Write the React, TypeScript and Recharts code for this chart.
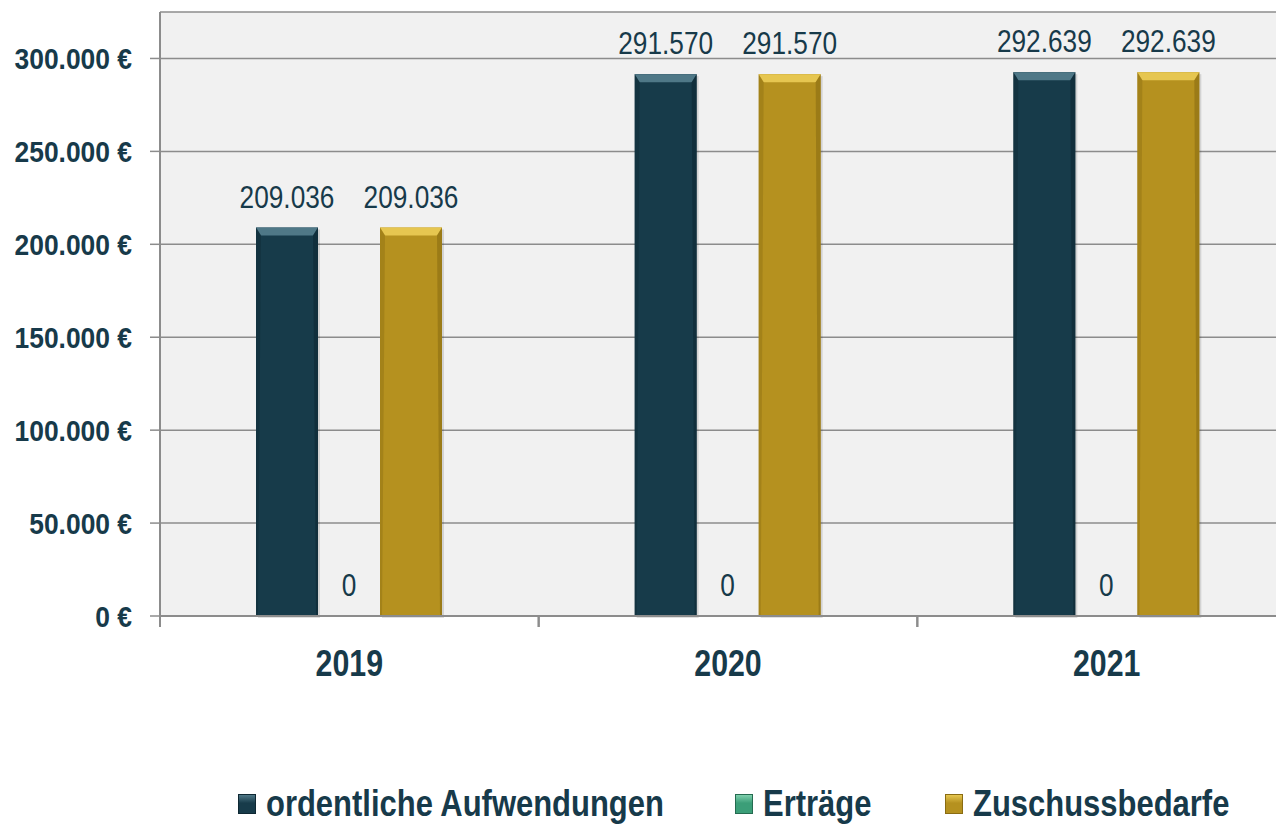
import React from 'react';
import { BarChart, Bar, XAxis, YAxis, CartesianGrid, LabelList, Legend } from 'recharts';

const years = ['2019', '2020', '2021'];
const aufwendungen = [209036, 291570, 292639];
const ertraege = [0, 0, 0];
const zuschuss = [209036, 291570, 292639];
const yTicks = [0, 50000, 100000, 150000, 200000, 250000, 300000];

const seriesNames = ['ordentliche Aufwendungen', 'Erträge', 'Zuschussbedarfe'];
const seriesColors = ['#173b4a', '#3b9e78', '#b5911f'];
const seriesLight = ['#4f7887', '#7fd0ad', '#e6c650'];
const seriesDark = ['#0e2833', '#256b50', '#8a6c12'];
const legendLeft = [238, 735, 945];

const data = years.map((y, i) => ({ year: y, a: aufwendungen[i], e: ertraege[i], z: zuschuss[i] }));

const FONT = '"Liberation Sans", Arial, sans-serif';
const SX = 0.82;
const TEXT = '#173a4a';
const GRID = '#8c8c8c';

const fmt = (v: any) => String(Math.round(Number(v))).replace(/\B(?=(\d{3})+(?!\d))/g, '.');

const NarrowText = ({ x, y, anchor, size, bold, children, dy, sx }: any) => (
  <text
    x={0}
    y={0}
    dy={dy || 0}
    transform={`translate(${x},${y}) scale(${sx || SX},1)`}
    textAnchor={anchor}
    fill={TEXT}
    fontSize={size}
    fontWeight={bold ? 'bold' : 'normal'}
    fontFamily={FONT}
  >
    {children}
  </text>
);

const makeShape = (idx: number) => (props: any) => {
  const { x, y, width: w, height: h } = props;
  if (!h || h <= 0) return <g />;
  const b = Math.min(8, h / 2);
  const s = 5;
  return (
    <g>
      <rect x={x + 2} y={y + 2} width={w} height={h} fill="rgba(0,0,0,0.12)" />
      <rect x={x} y={y} width={w} height={h} fill={seriesColors[idx]} />
      <polygon points={`${x},${y} ${x + w},${y} ${x + w - s},${y + b} ${x + s},${y + b}`} fill={seriesLight[idx]} />
      <polygon points={`${x + w},${y} ${x + w},${y + h} ${x + w - 2},${y + h} ${x + w - s},${y + b}`} fill={seriesDark[idx]} opacity={0.6} />
      <polygon points={`${x},${y} ${x + s},${y + b} ${x + 2},${y + h} ${x},${y + h}`} fill={seriesDark[idx]} opacity={0.4} />
    </g>
  );
};

const XTick = (props: any) => {
  const { x, y, payload } = props;
  const off = payload && typeof payload.offset === 'number' ? payload.offset : 0;
  return (
    <g>
      {off > 0 && <line x1={x - off} x2={x - off} y1={y} y2={y + 11} stroke={GRID} strokeWidth={2} />}
      {off > 0 && <line x1={x + off} x2={x + off} y1={y} y2={y + 11} stroke={GRID} strokeWidth={2} />}
      <NarrowText x={x} y={y + 60} anchor="middle" size={37} bold>
        {payload.value}
      </NarrowText>
    </g>
  );
};

const YTick = (props: any) => {
  const { x, y, payload } = props;
  return (
    <NarrowText x={x} y={y} dy="0.36em" anchor="end" size={30} bold sx={0.88}>
      {fmt(payload.value) + ' €'}
    </NarrowText>
  );
};

const ValueLabel = (props: any) => {
  const { x, y, width, value } = props;
  return (
    <NarrowText x={x + width / 2} y={y - 20} anchor="middle" size={32}>
      {fmt(value)}
    </NarrowText>
  );
};

const LegendContent = () => (
  <div style={{ position: 'relative', height: 60, fontFamily: FONT, fontWeight: 'bold', fontSize: 36, color: TEXT }}>
    {seriesNames.map((n, i) => (
      <div key={n} style={{ position: 'absolute', left: legendLeft[i], top: 16, display: 'flex', alignItems: 'center', whiteSpace: 'nowrap' }}>
        <div style={{ width: 16, height: 18, marginRight: 10, flex: 'none', background: `linear-gradient(to bottom, ${seriesLight[i]} 0%, ${seriesColors[i]} 45%, ${seriesColors[i]} 100%)`, border: `1px solid ${seriesDark[i]}` }} />
        <span style={{ display: 'inline-block', transform: 'scaleX(0.86)', transformOrigin: 'left center' }}>{n}</span>
      </div>
    ))}
  </div>
);

export default function App() {
  return (
    <div style={{ position: 'absolute', left: 0, top: 0, width: 1276, height: 827, overflow: 'hidden', background: '#fff' }}>
      <BarChart width={1296} height={827} data={data} margin={{ top: 12, right: 0, bottom: 0, left: 0 }} barSize={62} barGap={0}>
        <CartesianGrid vertical={false} horizontal={true} stroke={GRID} strokeWidth={1.5} fill="#f1f1f1" />
        <XAxis dataKey="year" height={151} tickLine={false} tickSize={0} tickMargin={0} axisLine={{ stroke: GRID, strokeWidth: 2 }} tick={<XTick />} interval={0} />
        <YAxis
          width={160}
          domain={[0, 325000]}
          ticks={yTicks}
          tickSize={10}
          tickMargin={18}
          axisLine={{ stroke: GRID, strokeWidth: 2 }}
          tickLine={{ stroke: GRID, strokeWidth: 1.5 }}
          tick={<YTick />}
        />
        <Legend verticalAlign="bottom" content={<LegendContent />} wrapperStyle={{ height: 60, left: 0, width: 1296 }} />
        <Bar dataKey="a" name={seriesNames[0]} fill={seriesColors[0]} shape={makeShape(0)} isAnimationActive={false}>
          <LabelList dataKey="a" content={<ValueLabel />} />
        </Bar>
        <Bar dataKey="e" name={seriesNames[1]} fill={seriesColors[1]} shape={makeShape(1)} isAnimationActive={false}>
          <LabelList dataKey="e" content={<ValueLabel />} />
        </Bar>
        <Bar dataKey="z" name={seriesNames[2]} fill={seriesColors[2]} shape={makeShape(2)} isAnimationActive={false}>
          <LabelList dataKey="z" content={<ValueLabel />} />
        </Bar>
      </BarChart>
    </div>
  );
}
